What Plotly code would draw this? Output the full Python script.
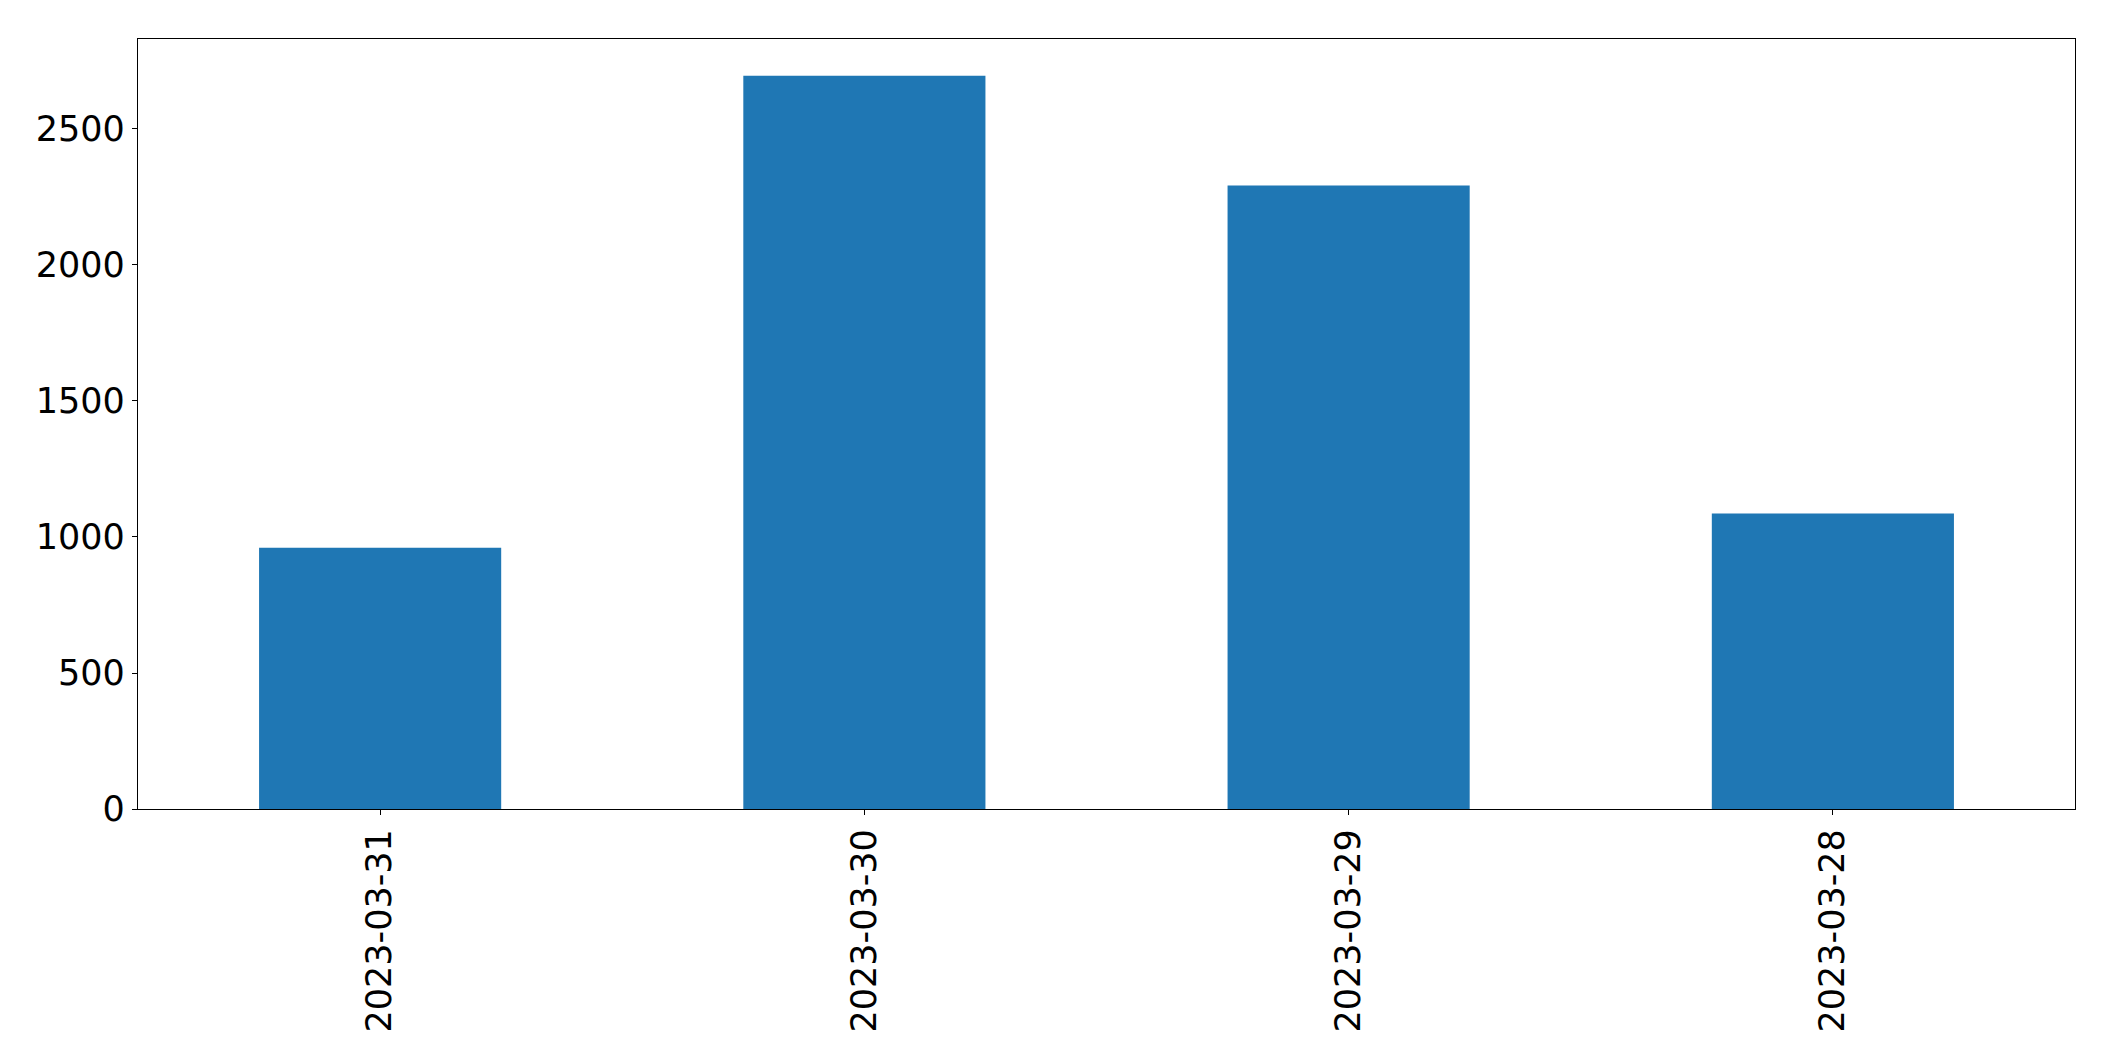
import plotly.graph_objects as go

dates = ["2023-03-31", "2023-03-30", "2023-03-29", "2023-03-28"]
counts = [960, 2696, 2292, 1086]
y_ticks = [0, 500, 1000, 1500, 2000, 2500]

fig = go.Figure(
    go.Bar(
        x=dates,
        y=counts,
        width=0.5,
        marker=dict(color="#1f77b4", line=dict(width=0)),
    )
)

font = dict(family="DejaVu Sans", size=35, color="black")

fig.update_layout(
    width=2115,
    height=1061,
    margin=dict(l=130, r=48, t=31, b=260),
    paper_bgcolor="white",
    plot_bgcolor="white",
    showlegend=False,
    font=font,
)
fig.update_xaxes(
    type="category",
    range=[-0.5, len(dates) - 0.5],
    tickangle=-90,
    ticks="outside",
    ticklen=5,
    tickwidth=1.3,
    tickcolor="black",
    showline=True,
    linecolor="black",
    linewidth=1.3,
    mirror=True,
    showgrid=False,
    tickfont=font,
)
fig.update_yaxes(
    range=[0, max(counts) * 1.05],
    tickvals=y_ticks,
    ticktext=[str(v) for v in y_ticks],
    ticks="outside",
    ticklen=5,
    tickwidth=1.3,
    tickcolor="black",
    showline=True,
    linecolor="black",
    linewidth=1.3,
    mirror=True,
    showgrid=False,
    zeroline=False,
    tickfont=font,
)

fig.write_html("out.html")
